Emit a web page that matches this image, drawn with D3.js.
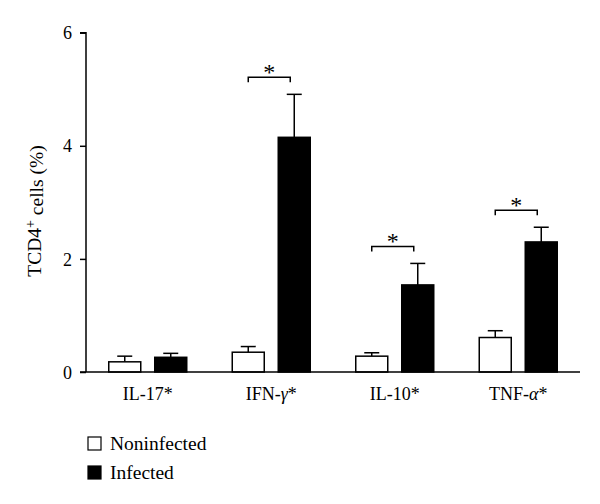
<!DOCTYPE html>
<html>
<head>
<meta charset="utf-8">
<script src="https://cdn.jsdelivr.net/npm/d3@7"></script>
<style>
  body { margin: 0; background: #fff; }
  text { font-family: "Liberation Serif", "DejaVu Serif", serif; fill: #000; }
</style>
</head>
<body>
<div id="chart"></div>
<script>
// cytokine-producing TCD4+ cells, mean and upper error (SEM)
const categories = ["IL-17*", "IFN-γ*", "IL-10*", "TNF-α*"];
const groups = ["Noninfected", "Infected"];
const noninfected = [0.18, 0.35, 0.28, 0.61];
const noninfectedErr = [0.10, 0.10, 0.06, 0.12];
const infected = [0.26, 4.15, 1.54, 2.30];
const infectedErr = [0.07, 0.76, 0.38, 0.26];
const significant = [false, true, true, true];
const yTicks = [0, 2, 4, 6];

const width = 600, height = 504;
const x0 = 86, x1 = 580, yBase = 372, yTop = 32.7;

const svg = d3.select("#chart").append("svg")
  .attr("width", width).attr("height", height);

const x = d3.scaleBand().domain(categories).range([x0, x1]);
const y = d3.scaleLinear().domain([0, 6]).range([yBase, yTop]);

const barW = 32, gap = 14;
const xSub = d3.scaleOrdinal().domain(groups).range([-(gap / 2 + barW), gap / 2]);

const rows = categories.map((c, i) => ({
  cat: c,
  vals: [
    { g: "Noninfected", v: noninfected[i], e: noninfectedErr[i] },
    { g: "Infected", v: infected[i], e: infectedErr[i] }
  ],
  sig: significant[i]
}));

const grp = svg.selectAll("g.cat").data(rows).enter().append("g")
  .attr("class", "cat")
  .attr("transform", d => `translate(${x(d.cat) + x.bandwidth() / 2},0)`);

const bars = grp.selectAll("g.bar").data(d => d.vals).enter().append("g").attr("class", "bar");

// error bars, upper side only
bars.append("line")
  .attr("x1", d => xSub(d.g) + barW / 2).attr("x2", d => xSub(d.g) + barW / 2)
  .attr("y1", d => y(d.v)).attr("y2", d => y(d.v + d.e))
  .attr("stroke", "#000").attr("stroke-width", 1.5);
bars.append("line")
  .attr("x1", d => xSub(d.g) + barW / 2 - 7.5).attr("x2", d => xSub(d.g) + barW / 2 + 7.5)
  .attr("y1", d => y(d.v + d.e)).attr("y2", d => y(d.v + d.e))
  .attr("stroke", "#000").attr("stroke-width", 1.5);

bars.append("rect")
  .attr("x", d => xSub(d.g))
  .attr("y", d => y(d.v))
  .attr("width", barW)
  .attr("height", d => y(0) - y(d.v))
  .attr("fill", d => d.g === "Infected" ? "#000" : "#fff")
  .attr("stroke", "#000").attr("stroke-width", 1.5);

// significance brackets
const sig = grp.filter(d => d.sig).append("g");
const bracketY = d => y(d.vals[1].v + d.vals[1].e) - 17;
const bxL = xSub("Noninfected") + barW / 2, bxR = xSub("Infected") + barW / 2 - 4;
sig.append("path")
  .attr("d", d => `M${bxL},${bracketY(d) + 5}V${bracketY(d)}H${bxR}V${bracketY(d) + 5}`)
  .attr("fill", "none").attr("stroke", "#000").attr("stroke-width", 1.5);
sig.append("text")
  .attr("x", (bxL + bxR) / 2).attr("y", d => bracketY(d) + 3)
  .attr("text-anchor", "middle").style("font-size", "24px").text("*");

// axes
const yAxis = svg.append("g").attr("transform", `translate(${x0},0)`)
  .call(d3.axisLeft(y).tickValues(yTicks).tickFormat(d3.format("d")).tickSize(6).tickPadding(8));
yAxis.select(".domain").attr("d", `M-6,${yTop}H0V${yBase}`);
yAxis.selectAll("path, line").attr("stroke", "#000").attr("stroke-width", 1.5);
yAxis.selectAll("text").attr("dy", "0.34em")
  .style("font-size", "18px").style("font-family", "Liberation Serif");

svg.append("line").attr("x1", x0 - 6).attr("x2", x1).attr("y1", yBase).attr("y2", yBase)
  .attr("stroke", "#000").attr("stroke-width", 1.5);

const xAxis = svg.append("g").attr("transform", `translate(0,${yBase})`)
  .call(d3.axisBottom(x).tickSize(0).tickPadding(15));
xAxis.select(".domain").remove();
xAxis.selectAll("text").style("font-size", "18px").style("font-family", "Liberation Serif")
  .each(function(d) {
    const t = d3.select(this);
    const m = d.match(/^(.*?)([γα])\*$/);
    t.text(null);
    if (m) {
      t.append("tspan").text(m[1]);
      t.append("tspan").style("font-style", "italic").text(m[2]);
      t.append("tspan").text("*");
    } else t.append("tspan").text(d);
  });

// y label
const yl = svg.append("text")
  .attr("transform", `translate(41,211) rotate(-90)`)
  .attr("text-anchor", "middle").style("font-size", "19.5px");
yl.append("tspan").text("TCD4");
yl.append("tspan").attr("dy", "-0.45em").style("font-size", "14px").text("+");
yl.append("tspan").attr("dy", "0.45em").text("  cells (%)");

// legend
const leg = svg.selectAll("g.leg").data(groups).enter().append("g")
  .attr("transform", (d, i) => `translate(88,${437 + i * 29})`);
leg.append("rect").attr("width", 13).attr("height", 13)
  .attr("fill", d => d === "Infected" ? "#000" : "#fff")
  .attr("stroke", "#000").attr("stroke-width", 1.2);
leg.append("text").attr("x", 22).attr("y", 12.5).style("font-size", "19.5px").text(d => d);
</script>
</body>
</html>
